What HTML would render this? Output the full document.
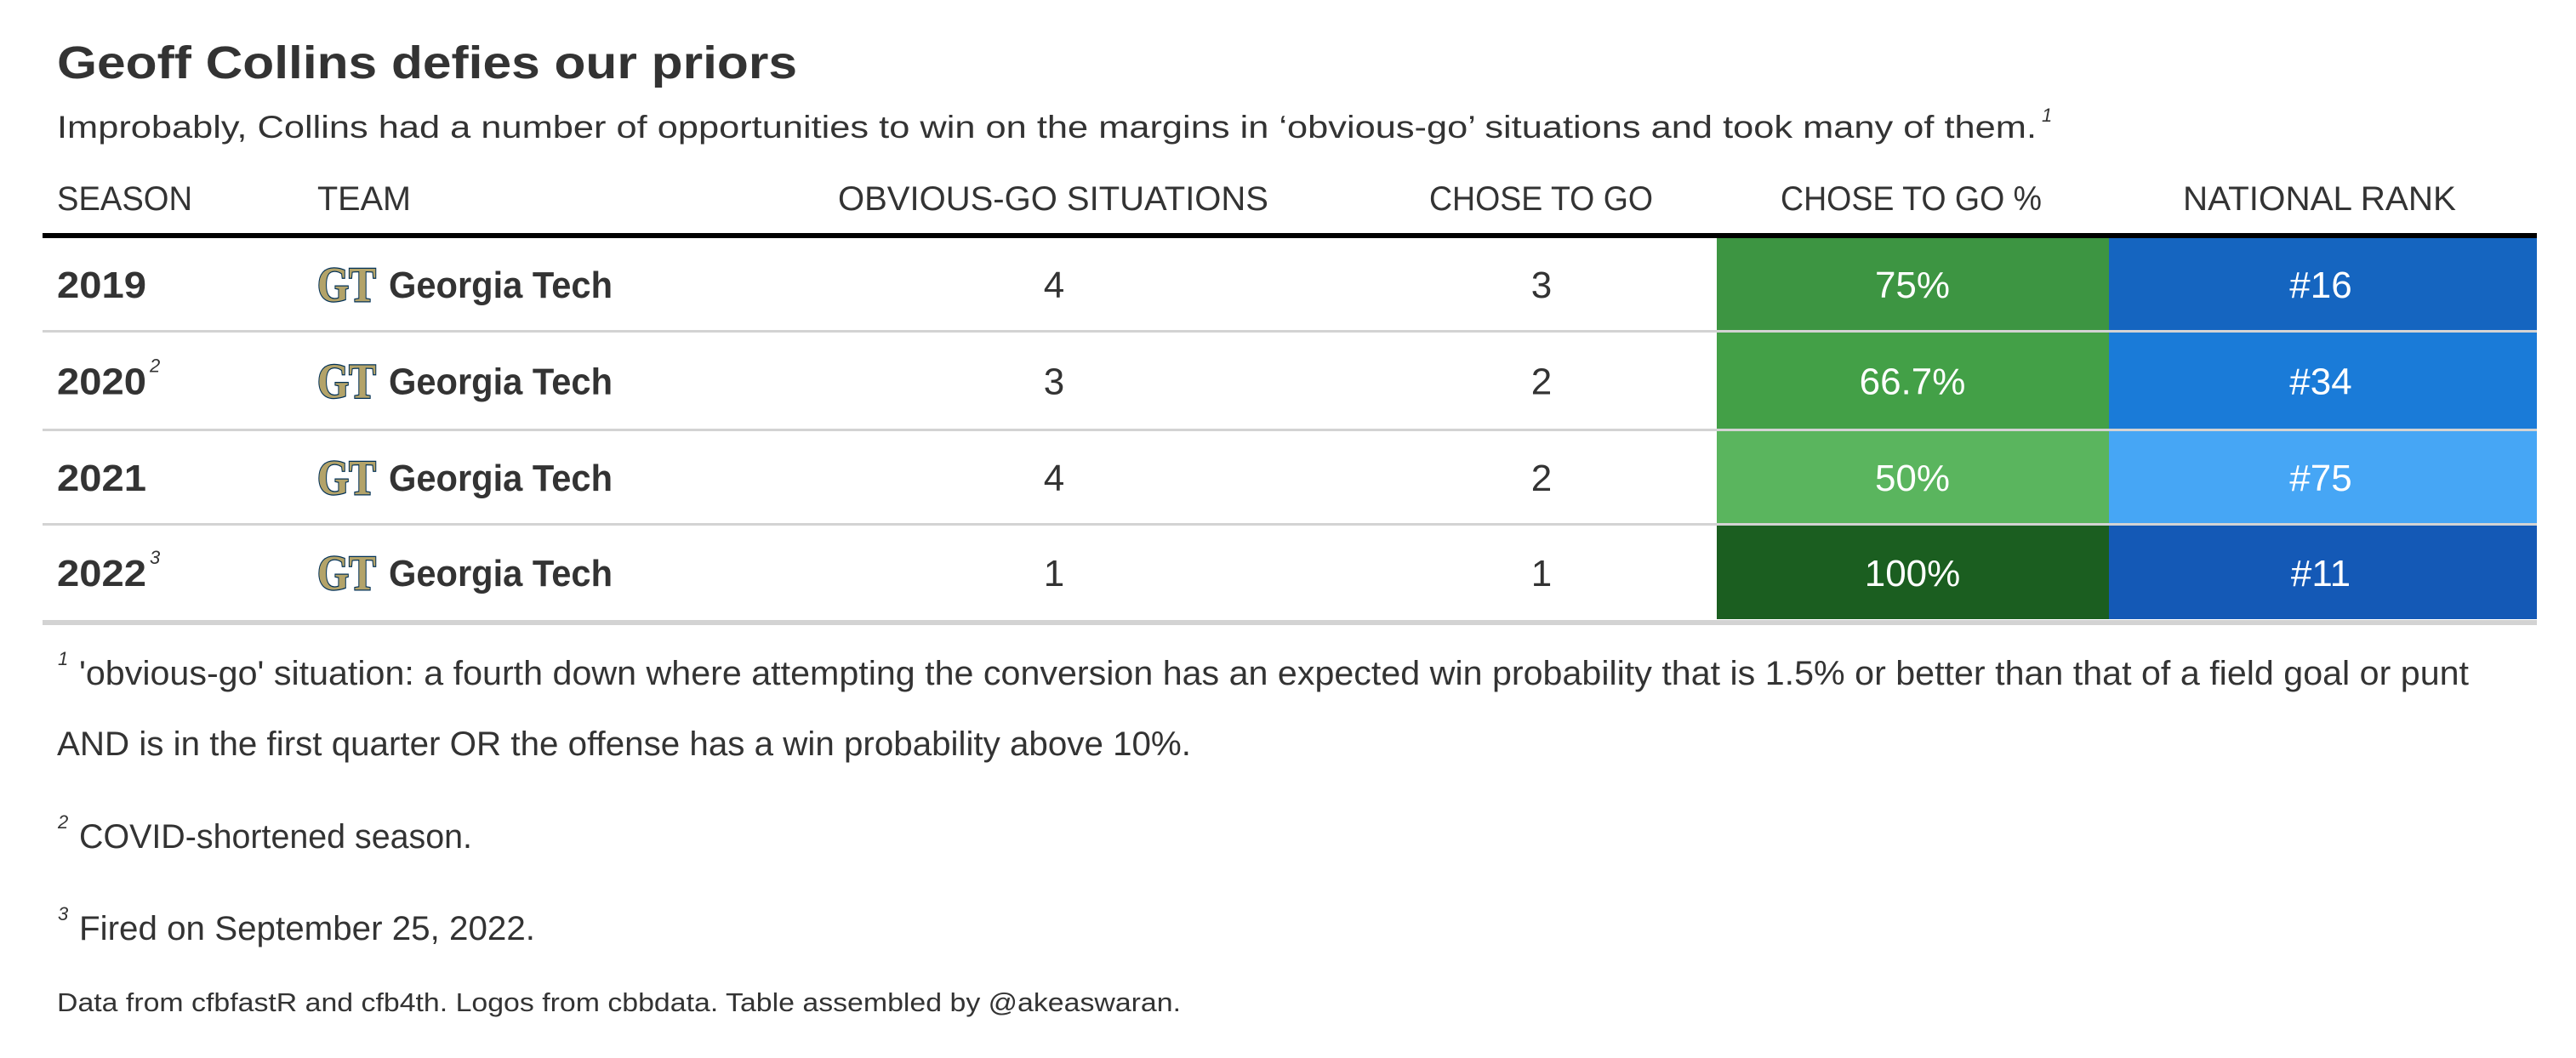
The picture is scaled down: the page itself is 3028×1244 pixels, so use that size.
<!DOCTYPE html>
<html><head><meta charset="utf-8"><style>
html,body{margin:0;padding:0;background:#fff;}
svg{display:block;}
text{font-family:"Liberation Sans",sans-serif;fill:#333;}
</style></head><body>
<svg width="3028" height="1244" viewBox="0 0 3028 1244" xmlns="http://www.w3.org/2000/svg" id="tbl">
<text x="67" y="92" font-size="54" font-weight="bold" textLength="870" lengthAdjust="spacingAndGlyphs">Geoff Collins defies our priors</text>
<text x="67" y="162" font-size="37" textLength="2327" lengthAdjust="spacingAndGlyphs">Improbably, Collins had a number of opportunities to win on the margins in ‘obvious-go’ situations and took many of them.</text>
<text x="2400" y="143" font-size="22" font-style="italic">1</text>
<g id="hdr">
<text x="67" y="247" font-size="40" textLength="159" lengthAdjust="spacingAndGlyphs">SEASON</text>
<text x="373" y="247" font-size="40" textLength="110" lengthAdjust="spacingAndGlyphs">TEAM</text>
<text x="985" y="247" font-size="40" textLength="506" lengthAdjust="spacingAndGlyphs">OBVIOUS-GO SITUATIONS</text>
<text x="1680" y="247" font-size="40" textLength="263" lengthAdjust="spacingAndGlyphs">CHOSE TO GO</text>
<text x="2093" y="247" font-size="40" textLength="307" lengthAdjust="spacingAndGlyphs">CHOSE TO GO %</text>
<text x="2566" y="247" font-size="40" textLength="321" lengthAdjust="spacingAndGlyphs">NATIONAL RANK</text>
</g>
<rect x="50" y="274" width="2932" height="6" fill="#000"/>
<g id="rows"></g>
<rect x="50" y="729" width="2932" height="6" fill="#d3d3d3"/>
<g>
<text x="68" y="782" font-size="22" font-style="italic">1</text>
<text x="93" y="805" font-size="40" textLength="2809" lengthAdjust="spacingAndGlyphs">'obvious-go' situation: a fourth down where attempting the conversion has an expected win probability that is 1.5% or better than that of a field goal or punt</text>
<text x="67" y="888" font-size="40" textLength="1333" lengthAdjust="spacingAndGlyphs">AND is in the first quarter OR the offense has a win probability above 10%.</text>
<text x="68" y="974" font-size="22" font-style="italic">2</text>
<text x="93" y="997" font-size="40" textLength="462" lengthAdjust="spacingAndGlyphs">COVID-shortened season.</text>
<text x="68" y="1082" font-size="22" font-style="italic">3</text>
<text x="93" y="1105" font-size="40" textLength="536" lengthAdjust="spacingAndGlyphs">Fired on September 25, 2022.</text>
<text x="67" y="1189" font-size="31" textLength="1321" lengthAdjust="spacingAndGlyphs">Data from cfbfastR and cfb4th. Logos from cbbdata. Table assembled by @akeaswaran.</text>
</g>
</svg>
<script>
const seasons = ["2019","2020","2021","2022"];
const seasonMarks = ["","2","","3"];
const teams = ["Georgia Tech","Georgia Tech","Georgia Tech","Georgia Tech"];
const obviousGo = [4,3,4,1];
const choseToGo = [3,2,2,1];
const chosePctLabels = ["75%","66.7%","50%","100%"];
const nationalRank = [16,34,75,11];

const NS="http://www.w3.org/2000/svg";
const g=document.getElementById('rows');
const rowTops=[280,391,507,618];
const rowBottoms=[388,504,615,728];
function pctColor(p){
  if(p>=0.99) return "#1b5e20";
  if(p>=0.74) return "#3d9542";
  if(p>=0.6) return "#43a047";
  return "#5ab55e";
}
function rankColor(r){
  if(r<=12) return "#1459b6";
  if(r<=20) return "#1565c0";
  if(r<=50) return "#1a7bd8";
  return "#46a6f5";
}
function mk(tag,attrs,text){
  const e=document.createElementNS(NS,tag);
  for(const k in attrs) e.setAttribute(k,attrs[k]);
  if(text!==undefined) e.textContent=text;
  g.appendChild(e);return e;
}
for(let i=0;i<seasons.length;i++){
  const t=rowTops[i], b=rowBottoms[i], c=(t+b)/2, base=c+16;
  const pct=choseToGo[i]/obviousGo[i];
  let e;
  e=mk('rect',{x:2018,y:t,width:461,height:b-t,fill:pctColor(pct)});
  
  
  e=mk('rect',{x:2479,y:t,width:503,height:b-t,fill:rankColor(nationalRank[i])});
  
  
  if(i<seasons.length-1){
    e=mk('rect',{x:50,y:b,width:2932,height:3,fill:"#d3d3d3"});
    
    
  }
  e=mk('text',{x:67,y:base,'font-size':44,'font-weight':'bold',textLength:105,lengthAdjust:'spacingAndGlyphs'},seasons[i]);
  
  
  if(seasonMarks[i]){
    e=mk('text',{x:176,y:base-26,'font-size':22,'font-style':'italic'},seasonMarks[i]);
    
    
  }
  e=mk('text',{x:373,y:c+20,'font-size':58,'font-weight':'bold',textLength:69,lengthAdjust:'spacingAndGlyphs',style:'font-family:"Liberation Serif",serif;fill:#b3a369;stroke:#003057;stroke-width:2.5px;paint-order:stroke'},'GT');
  
  
  e=mk('text',{x:457,y:base,'font-size':44,'font-weight':'bold',textLength:263,lengthAdjust:'spacingAndGlyphs'},teams[i]);
  
  
  e=mk('text',{x:1239,y:base,'font-size':44,'text-anchor':'middle'},String(obviousGo[i]));
  
  
  e=mk('text',{x:1812,y:base,'font-size':44,'text-anchor':'middle'},String(choseToGo[i]));
  
  
  e=mk('text',{x:2248,y:base,'font-size':44,'text-anchor':'middle',style:'fill:#fff'},chosePctLabels[i]);
  
  
  e=mk('text',{x:2728,y:base,'font-size':44,'text-anchor':'middle',style:'fill:#fff'},'#'+nationalRank[i]);
  
  
}
</script>
</body></html>
